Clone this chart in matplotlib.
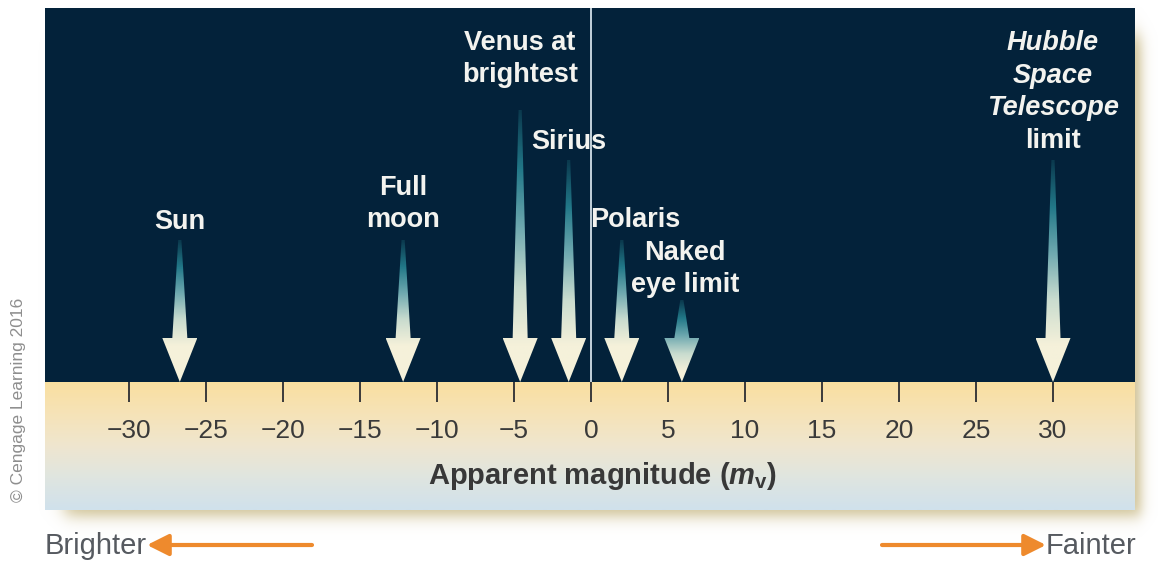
import numpy as np
import matplotlib.pyplot as plt
from matplotlib.colors import LinearSegmentedColormap
from matplotlib.patches import Polygon

plt.rcParams['font.family'] = 'Liberation Sans'
plt.rcParams['mathtext.fontset'] = 'custom'
plt.rcParams['mathtext.rm'] = 'Liberation Sans:bold'
plt.rcParams['mathtext.it'] = 'Liberation Sans:bold:italic'
plt.rcParams['mathtext.bf'] = 'Liberation Sans:bold'

# objects and their apparent magnitudes
names = ['Sun', 'Full\nmoon', 'Venus at\nbrightest', 'Sirius', 'Polaris',
         'Naked\neye limit', 'Hubble\nSpace\nTelescope\nlimit']
mags = [-26.7, -12.2, -4.6, -1.45, 2.0, 5.9, 30.0]
ticks = list(range(-30, 31, 5))

# layout, in pixel rows of the panel: top of each shaft, label centre, label shift (mag)
shaft_top = [240, 240, 110, 160, 240, 300, 160]
label_y = [222, 204, 59, 142, 220, 269, 92]
label_dx = [0, 0, 0, 0, 0.86, 0.2, 0]
italic_lines = [[], [], [], [], [], [], [0, 1, 2]]

W, H = 1158, 567
L, R = 45, 1135
TOP, MID, BOT = 8, 382, 510
px_per_mag = 15.4
zero_px = 591

fig = plt.figure(figsize=(W / 100, H / 100), dpi=100)

# background axes in pixels: drop shadow, brighter/fainter arrows, credit
bg = fig.add_axes([0, 0, 1, 1])
bg.set_xlim(0, W)
bg.set_ylim(H, 0)
bg.axis('off')

yy, xx = np.mgrid[0:H, 0:W] + 0.5
fx = 0.5 * (np.tanh((xx - 65) / 10) - np.tanh((xx - 1141) / 7))
fy = 0.5 * (np.tanh((yy - 35) / 12) - np.tanh((yy - 516) / 9))
shadow = np.zeros((H, W, 4))
shadow[..., :3] = np.array([198, 182, 128]) / 255
shadow[..., 3] = 0.85 * fx * fy
bg.imshow(shadow, extent=(0, W, H, 0), interpolation='bilinear', zorder=0)

orange = '#ee8a2d'
bg.annotate('', xy=(147, 545), xytext=(312, 545),
            arrowprops=dict(arrowstyle='-|>,head_length=1.3,head_width=0.65',
                            color=orange, lw=3, shrinkA=0, shrinkB=0, mutation_scale=10))
bg.annotate('', xy=(1046, 545), xytext=(882, 545),
            arrowprops=dict(arrowstyle='-|>,head_length=1.3,head_width=0.65',
                            color=orange, lw=3, shrinkA=0, shrinkB=0, mutation_scale=10))
bg.text(45, 546, 'Brighter', fontsize=21, color='#565a60', ha='left', va='center')
bg.text(1136, 546, 'Fainter', fontsize=21, color='#565a60', ha='right', va='center')
bg.text(19, 400, '\u00a9 Cengage Learning 2016', rotation=90, fontsize=12.5,
        color='#8e8e8e', ha='center', va='center')

# pale band under the panel
band = fig.add_axes([L / W, 1 - BOT / H, (R - L) / W, (BOT - MID) / H], zorder=1)
band_cmap = LinearSegmentedColormap.from_list(
    'band', ['#f9dfa0', '#f6e3b8', '#efe6cf', '#dfe5e0', '#d0e1ec'])
band.imshow(np.linspace(0, 1, 128)[:, None], cmap=band_cmap, aspect='auto',
            extent=(0, 1, 0, 1), interpolation='bilinear')
band.axis('off')

# dark panel with the magnitude axis
ax = fig.add_axes([L / W, 1 - MID / H, (R - L) / W, (MID - TOP) / H], zorder=3)
ax.set_facecolor('#03223a')
for s in ax.spines.values():
    s.set_visible(False)

ax.axvline(0, color='#d3e0e8', lw=1.3, zorder=1)

shaft_cmap = LinearSegmentedColormap.from_list(
    'shaft', ['#0b3a4e', '#227888', '#6fa9b0', '#c9dccf', '#f5f1da'])
head_h = 44
head_hw = 17.5 / px_per_mag
shaft_hw = 7.5 / px_per_mag
tip_hw = 1.6 / px_per_mag
for m, top in zip(mags, shaft_top):
    base = MID - head_h
    pts = [(m - tip_hw, top), (m + tip_hw, top), (m + shaft_hw, base),
           (m + head_hw, base), (m, MID), (m - head_hw, base), (m - shaft_hw, base)]
    poly = Polygon(pts, closed=True, facecolor='none', edgecolor='none')
    ax.add_patch(poly)
    glen = max(base - top + 8, 72)
    rows = np.arange(top, MID + 1)
    t = np.clip((rows - top) / glen, 0, 1)
    im = ax.imshow(t[:, None], extent=(m - head_hw, m + head_hw, MID, top),
                   cmap=shaft_cmap, vmin=0, vmax=1, aspect='auto',
                   interpolation='bilinear', zorder=2)
    im.set_clip_path(poly)

line_gap = 32.5
for name, m, ly, dx, ital in zip(names, mags, label_y, label_dx, italic_lines):
    lines = name.split('\n')
    n = len(lines)
    for i, txt in enumerate(lines):
        y = ly + (i - (n - 1) / 2) * line_gap
        ax.text(m + dx, y, txt, ha='center', va='center', fontsize=19.5,
                fontweight='bold', color='#f3f3ef',
                style='italic' if i in ital else 'normal', zorder=4)

ax.set_xlim((L - zero_px) / px_per_mag, (R - zero_px) / px_per_mag)
ax.set_ylim(MID, TOP)
ax.set_xticks(ticks)
ax.set_yticks([])
ax.tick_params(axis='x', direction='out', length=14.4, width=1.4, color='#3a3a3a',
               labelsize=19, labelcolor='#3a3a3a', pad=12)
ax.set_xlabel(r'Apparent magnitude ($m_{\mathrm{v}}$)', fontsize=21,
              fontweight='bold', color='#383838')
ax.xaxis.set_label_coords((603 - L) / (R - L), -(460 - MID) / (MID - TOP))

fig.savefig('out.png', dpi=100)
